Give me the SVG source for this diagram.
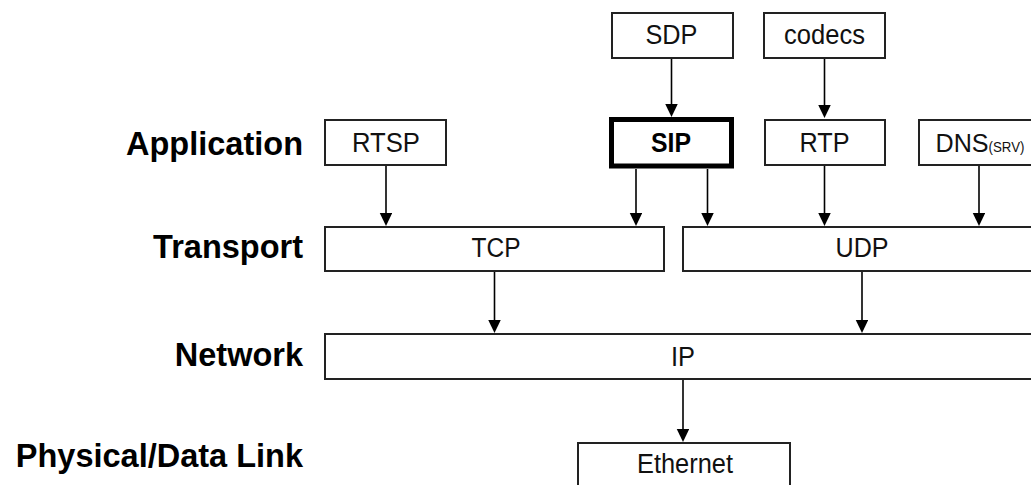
<svg xmlns="http://www.w3.org/2000/svg" width="1031" height="485" viewBox="0 0 1031 485">
<style>
.box{fill:#fff;stroke:#222;stroke-width:2}
.thick{fill:#fff;stroke:#000;stroke-width:5}
.t{font-family:"Liberation Sans",Arial,sans-serif;font-size:27px;fill:#111;text-anchor:middle}
.tb{font-family:"Liberation Sans",Arial,sans-serif;font-size:27px;font-weight:bold;fill:#000;text-anchor:middle}
.layer{font-family:"Liberation Sans",Arial,sans-serif;font-size:32.5px;font-weight:bold;fill:#000;text-anchor:end}
.c line{stroke:#000;stroke-width:1.6;marker-end:url(#ah)}
</style>
<defs>
<marker id="ah" markerUnits="userSpaceOnUse" markerWidth="14" markerHeight="13" refX="10" refY="6.25" orient="auto">
<path d="M0,0 L13,6.25 L0,12.5 Z" fill="#000"/>
</marker>
</defs>
<rect width="1031" height="485" fill="#fff"/>
<g id="layers">
<text class="layer" x="303" y="155">Application</text>
<text class="layer" x="303" y="258">Transport</text>
<text class="layer" x="303" y="366">Network</text>
<text class="layer" x="303" y="467">Physical/Data Link</text>
</g>
<g id="connectors" class="c">
<line x1="671.5" y1="59" x2="671.5" y2="114"/>
<line x1="824.5" y1="59" x2="824.5" y2="115"/>
<line x1="386" y1="166" x2="386" y2="223"/>
<line x1="636" y1="169" x2="636" y2="223"/>
<line x1="707.5" y1="169" x2="707.5" y2="223"/>
<line x1="824.5" y1="166" x2="824.5" y2="223"/>
<line x1="979" y1="166" x2="979" y2="223"/>
<line x1="494.5" y1="272" x2="494.5" y2="330"/>
<line x1="862" y1="272" x2="862" y2="330"/>
<line x1="683" y1="380" x2="683" y2="439"/>
</g>
<g id="sdp"><rect class="box" x="612" y="13" width="121" height="45"/><text class="t" x="671.5" y="44.3" textLength="52" lengthAdjust="spacingAndGlyphs">SDP</text></g>
<g id="codecs"><rect class="box" x="764" y="13" width="121" height="45"/><text class="t" x="824.5" y="44" textLength="81" lengthAdjust="spacingAndGlyphs">codecs</text></g>
<g id="rtsp"><rect class="box" x="325" y="120" width="121" height="45"/><text class="t" x="386" y="151.7" textLength="68" lengthAdjust="spacingAndGlyphs">RTSP</text></g>
<g id="sip"><rect class="thick" x="611.5" y="119.5" width="120" height="46.5"/><text class="tb" x="671" y="151.5" textLength="40" lengthAdjust="spacingAndGlyphs">SIP</text></g>
<g id="rtp"><rect class="box" x="765" y="120" width="120" height="45"/><text class="t" x="824.5" y="151.5" textLength="50" lengthAdjust="spacingAndGlyphs">RTP</text></g>
<g id="dns"><rect class="box" x="919" y="120" width="130" height="45"/><text class="t" x="935.5" y="152" style="text-anchor:start;font-size:26.5px" textLength="89" lengthAdjust="spacingAndGlyphs">DNS<tspan style="font-size:14px">(SRV)</tspan></text></g>
<g id="tcp"><rect class="box" x="325" y="227" width="339" height="44"/><text class="t" x="496" y="256.7" textLength="49" lengthAdjust="spacingAndGlyphs">TCP</text></g>
<g id="udp"><rect class="box" x="683" y="227" width="360" height="44"/><text class="t" x="862" y="257" textLength="53" lengthAdjust="spacingAndGlyphs">UDP</text></g>
<g id="ip"><rect class="box" x="325" y="334" width="718" height="45"/><text class="t" x="683" y="366" textLength="24" lengthAdjust="spacingAndGlyphs">IP</text></g>
<g id="ethernet"><rect class="box" x="578" y="443" width="212" height="50"/><text class="t" x="685" y="473.3" textLength="96" lengthAdjust="spacingAndGlyphs">Ethernet</text></g>
</svg>
